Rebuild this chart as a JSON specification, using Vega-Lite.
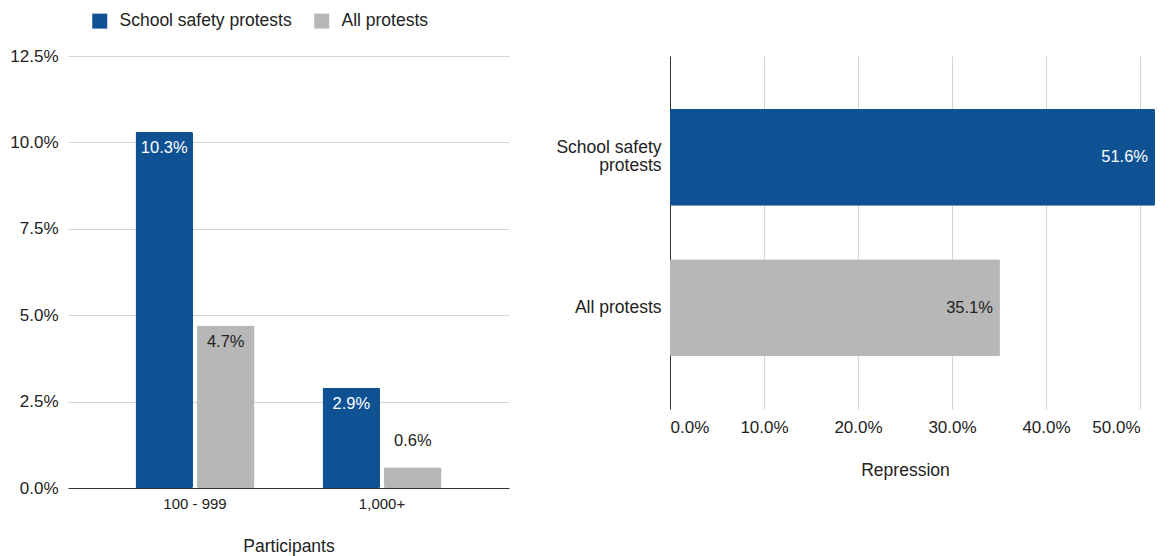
{
  "$schema": "https://vega.github.io/schema/vega-lite/v6.json",
  "padding": {"left": 9, "top": 12, "right": 10, "bottom": 4},
  "background": "white",
  "spacing": 46,
  "config": {
    "font": "Liberation Sans",
    "view": {"stroke": null},
    "axis": {
      "labelFont": "Liberation Sans",
      "titleFont": "Liberation Sans",
      "labelColor": "#222222",
      "titleColor": "#222222",
      "titleFontWeight": "normal",
      "ticks": false,
      "gridColor": "#d4d4d4",
      "gridWidth": 1
    },
    "legend": {"labelFont": "Liberation Sans", "labelColor": "#222222"},
    "text": {"font": "Liberation Sans"}
  },
  "resolve": {"scale": {"color": "independent"}, "legend": {"color": "independent"}},
  "hconcat": [
    {
      "width": 441,
      "height": 432,
      "data": {
        "values": [
          {"Participants": "100 - 999", "Series": "School safety protests", "Share": 0.103},
          {"Participants": "100 - 999", "Series": "All protests", "Share": 0.047},
          {"Participants": "1,000+", "Series": "School safety protests", "Share": 0.029},
          {"Participants": "1,000+", "Series": "All protests", "Share": 0.006}
        ]
      },
      "encoding": {
        "x": {
          "field": "Participants",
          "type": "nominal",
          "sort": null,
          "scale": {"paddingInner": 0.364, "paddingOuter": 0.361},
          "axis": {
            "labelAngle": 0,
            "labelFontSize": 15,
            "labelPadding": 8,
            "domainColor": "#333333",
            "grid": false,
            "title": "Participants",
            "titleFontSize": 17.5,
            "titlePadding": 26
          }
        },
        "xOffset": {
          "field": "Series",
          "type": "nominal",
          "sort": ["School safety protests", "All protests"],
          "scale": {"paddingInner": 0.065}
        },
        "y": {
          "field": "Share",
          "type": "quantitative",
          "scale": {"domain": [0, 0.125], "nice": false},
          "axis": {
            "values": [0, 0.025, 0.05, 0.075, 0.1, 0.125],
            "format": ".1%",
            "labelFontSize": 17,
            "labelPadding": 10,
            "domain": false,
            "title": null,
            "minExtent": 58,
            "maxExtent": 58
          }
        }
      },
      "layer": [
        {
          "mark": {"type": "bar", "cornerRadius": 1.5},
          "encoding": {
            "color": {
              "field": "Series",
              "type": "nominal",
              "sort": ["School safety protests", "All protests"],
              "scale": {
                "domain": ["School safety protests", "All protests"],
                "range": ["#0f5294", "#b7b7b7"]
              },
              "legend": {
                "title": null,
                "orient": "none",
                "legendX": 23,
                "legendY": -44,
                "direction": "horizontal",
                "symbolType": "square",
                "symbolSize": 225,
                "symbolStrokeWidth": 0,
                "labelFontSize": 17.5,
                "labelLimit": 400,
                "labelOffset": 11,
                "columnPadding": 21
              }
            }
          }
        },
        {
          "transform": [{"filter": "datum.Share >= 0.01"}],
          "mark": {"type": "text", "baseline": "middle", "dy": 16, "fontSize": 16.5},
          "encoding": {
            "text": {"field": "Share", "type": "quantitative", "format": ".1%"},
            "color": {
              "condition": {"test": "datum.Series == 'School safety protests'", "value": "#ffffff"},
              "value": "#222222"
            }
          }
        },
        {
          "transform": [{"filter": "datum.Share < 0.01"}],
          "mark": {"type": "text", "baseline": "middle", "dy": -26, "fontSize": 16.5, "color": "#222222"},
          "encoding": {
            "text": {"field": "Share", "type": "quantitative", "format": ".1%"}
          }
        }
      ]
    },
    {
      "width": 470,
      "height": 353,
      "data": {
        "values": [
          {"Group": "School safety protests", "Repression": 0.516},
          {"Group": "All protests", "Repression": 0.351}
        ]
      },
      "encoding": {
        "y": {
          "field": "Group",
          "type": "nominal",
          "sort": null,
          "scale": {"paddingInner": 0.355, "paddingOuter": 0.35},
          "axis": {
            "title": null,
            "labelFontSize": 17.5,
            "labelPadding": 9,
            "labelLineHeight": 18,
            "labelOffset": {"condition": {"test": "datum.value == 'School safety protests'", "value": -9}, "value": 0},
            "domainColor": "#333333",
            "labelExpr": "datum.value == 'School safety protests' ? ['School safety', 'protests'] : datum.label",
            "minExtent": 115,
            "maxExtent": 115
          }
        },
        "x": {
          "field": "Repression",
          "type": "quantitative",
          "scale": {"domain": [0, 0.5], "nice": false},
          "axis": {
            "values": [0, 0.1, 0.2, 0.3, 0.4, 0.5],
            "format": ".1%",
            "domain": false,
            "labelFontSize": 17,
            "labelPadding": 10,
            "title": "Repression",
            "titleFontSize": 17.5,
            "titlePadding": 26
          }
        }
      },
      "layer": [
        {
          "mark": {"type": "bar", "cornerRadius": 1.5},
          "encoding": {
            "color": {
              "field": "Group",
              "type": "nominal",
              "scale": {
                "domain": ["School safety protests", "All protests"],
                "range": ["#0f5294", "#b7b7b7"]
              },
              "legend": null
            }
          }
        },
        {
          "mark": {"type": "text", "align": "right", "baseline": "middle", "dx": -7, "fontSize": 16.5},
          "encoding": {
            "text": {"field": "Repression", "type": "quantitative", "format": ".1%"},
            "color": {
              "condition": {"test": "datum.Group == 'School safety protests'", "value": "#ffffff"},
              "value": "#222222"
            }
          }
        }
      ]
    }
  ]
}
